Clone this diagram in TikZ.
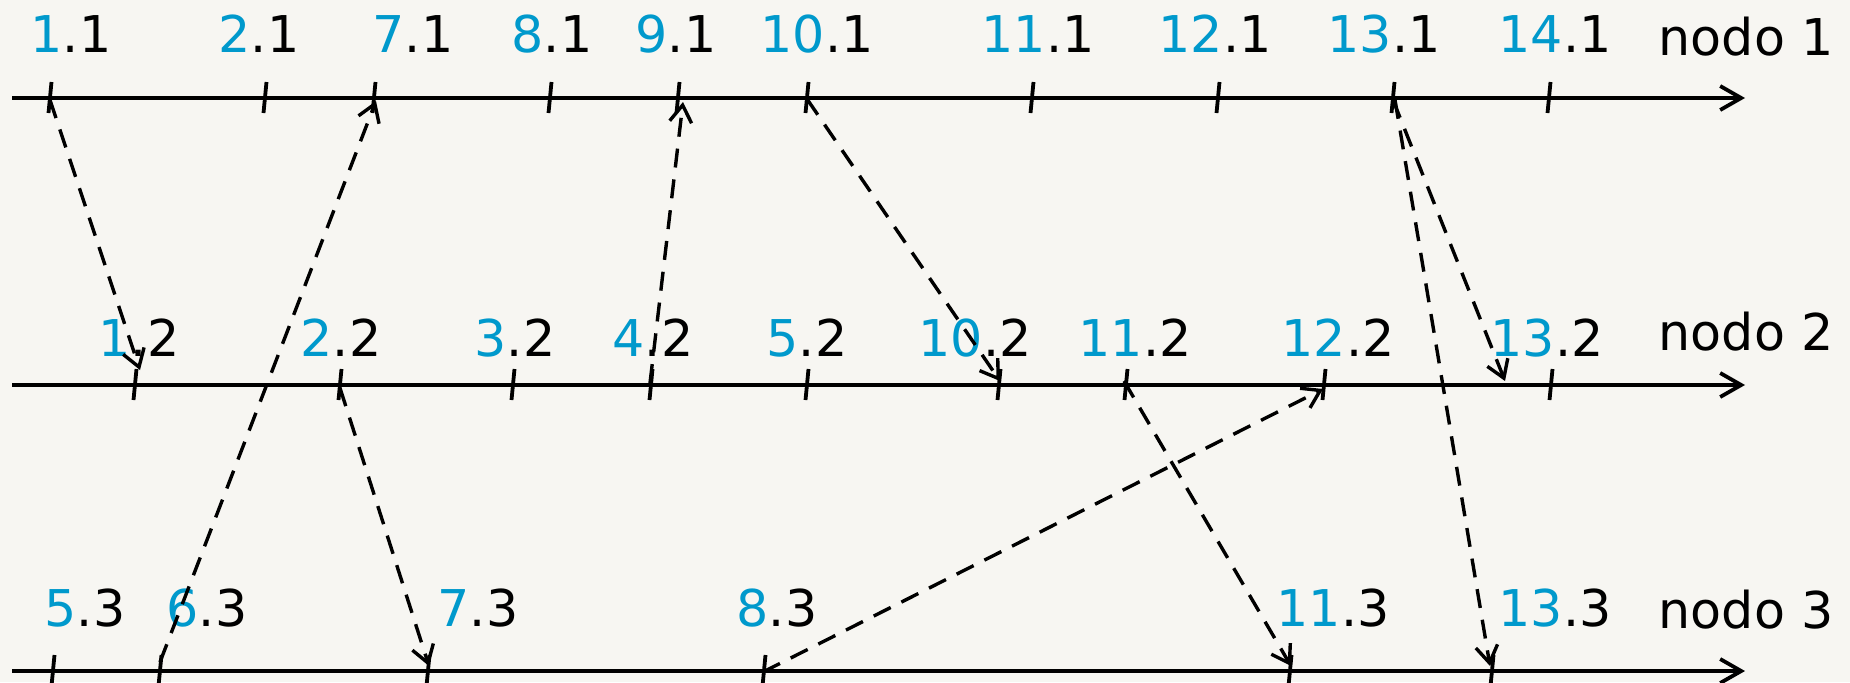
\documentclass[tikz,border=0pt]{standalone}
\usepackage{fontspec}
\setmainfont{DejaVu Sans}
\usetikzlibrary{arrows.meta}
\definecolor{bg}{RGB}{247,246,242}
\definecolor{num}{RGB}{0,153,204}
\newcommand{\lab}[2]{\textcolor{num}{#1}.#2}
\tikzset{
  timeline/.style={line width=1.9pt, -{Straight Barb[length=10.5pt,width=12pt,line width=1.9pt]}},
  tickmark/.style={line width=1.9pt},
  msg/.style={line width=1.7pt, dash pattern=on 9.5pt off 6pt, -{Straight Barb[length=8.5pt,width=11pt,line width=1.7pt]}},
  lbl/.style={anchor=base, inner sep=0pt, font=\fontsize{25.35}{30}\selectfont},
}
\begin{document}
\begin{tikzpicture}[x=0.5pt,y=-0.5pt]
\fill[bg] (0,0) rectangle (1850,682);
\useasboundingbox (0,0) rectangle (1850,682);
% line ends
\coordinate (s1) at (12,98);   \coordinate (e1) at (1745,98);
\coordinate (s2) at (12,385);  \coordinate (e2) at (1745,385);
\coordinate (s3) at (12,671);  \coordinate (e3) at (1745,671);
\draw[timeline] (s1) -- (e1);
\draw[timeline] (s2) -- (e2);
\draw[timeline] (s3) -- (e3);
% ticks
\foreach \x/\n in {50/1,265/2,374/7,550/8,678/9,807/10,1032/11,1218/12,1393/13,1549/14}
  {\coordinate (t\n-1) at (\x,98); \draw[tickmark] (t\n-1) ++(1.5,-16) -- ++(-3,31);}
\foreach \x/\n in {135/1,340/2,513/3,651/4,807/5,999/10,1126/11,1324/12,1551/13}
  {\coordinate (t\n-2) at (\x,385); \draw[tickmark] (t\n-2) ++(1.5,-16) -- ++(-3,31);}
\foreach \x/\n in {53/5,160/6,428/7,764/8,1290/11,1492/13}
  {\coordinate (t\n-3) at (\x,671); \draw[tickmark] (t\n-3) ++(1.5,-16) -- ++(-3,31);}
% labels
\foreach \x/\n in {71/1,259/2,413/7,552/8,676/9,817/10,1038/11,1215/12,1384/13,1555/14}
  {\node[lbl] (l\n-1) at (\x,52) {\lab{\n}{1}};}
\foreach \x/\n in {139/1,341/2,515/3,653/4,807/5,975/10,1135/11,1338/12,1547/13}
  {\node[lbl] (l\n-2) at (\x,356) {\lab{\n}{2}};}
\foreach \x/\n in {85/5,207/6,478/7,777/8,1333/11,1555/13}
  {\node[lbl] (l\n-3) at (\x,626) {\lab{\n}{3}};}
\node[lbl] (n1) at (1746,55) {nodo 1};
\node[lbl] (n2) at (1746,350) {nodo 2};
\node[lbl] (n3) at (1746,628) {nodo 3};
% message endpoints
\coordinate (a0) at (50,100);   \coordinate (a1) at (140,370);
\coordinate (b0) at (160,662);  \coordinate (b1) at (376,101);
\coordinate (c0) at (650,383);  \coordinate (c1) at (683,102);
\coordinate (d0) at (807,99);   \coordinate (d1) at (1000,381);
\coordinate (e0) at (340,388);  \coordinate (ee1) at (429,666);
\coordinate (f0) at (763,672);  \coordinate (f1) at (1323,389);
\coordinate (g0) at (1124,381); \coordinate (g1) at (1291,666);
\coordinate (h0) at (1393,100); \coordinate (h1) at (1505,381);
\coordinate (i0) at (1395,100); \coordinate (i1) at (1490,666);
\draw[msg] (a0) -- (a1);
\draw[msg] (b0) -- (b1);
\draw[msg] (c0) -- (c1);
\draw[msg] (d0) -- (d1);
\draw[msg] (e0) -- (ee1);
\draw[msg] (f0) -- (f1);
\draw[msg] (g0) -- (g1);
\draw[msg] (h0) -- (h1);
\draw[msg] (i0) -- (i1);
\end{tikzpicture}
\end{document}
